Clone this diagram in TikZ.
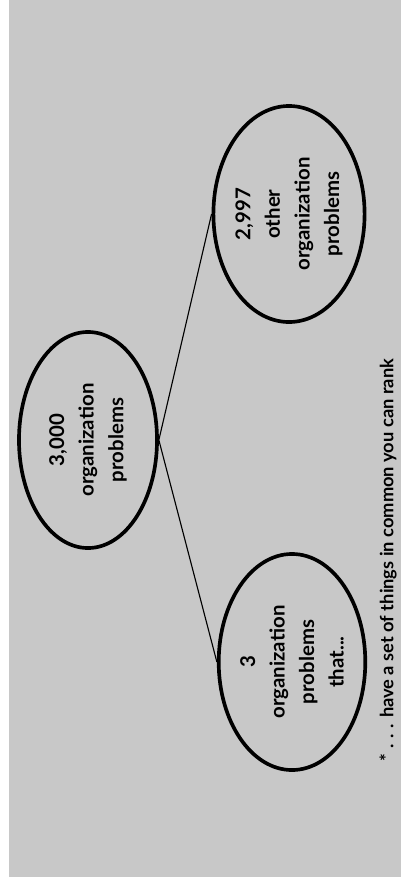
\documentclass[tikz,border=0pt]{standalone}
\usepackage{fontspec}
\setmainfont{Lato}
\usetikzlibrary{shapes.geometric}
\definecolor{paper}{RGB}{200,200,200}
\begin{document}
\begin{tikzpicture}[x=0.025cm,y=-0.025cm,
    problems/.style={ellipse,draw,line width=2.6pt,rotate=90,align=center,
        minimum width=5.4cm,minimum height=3.45cm,inner sep=0pt,
        font=\bfseries\fontsize{14.5}{21}\selectfont}]
    % Define the page and its grey backing
    \useasboundingbox (0,0) rectangle (401,888);
    \fill[paper] (9,0) rectangle (401,877);

    % Define the positions of the nodes
    \node[problems] (total) at (88,440) {3,000\\organization\\problems};
    \node[problems] (other) at (289,214) {2,997\\other\\organization\\problems};
    \node[problems] (few) at (292,662) {3\\organization\\problems\\that...};

    \node[rotate=90,font=\bfseries\fontsize{13}{15}\selectfont] (note) at (388,560) {* . . . have a set of things in common you can rank};

    % Draw the edges
    \draw[line width=0.8pt] (total.south) -- (other.north);
    \draw[line width=0.8pt] (total.south) -- (few.north);
\end{tikzpicture}
\end{document}
